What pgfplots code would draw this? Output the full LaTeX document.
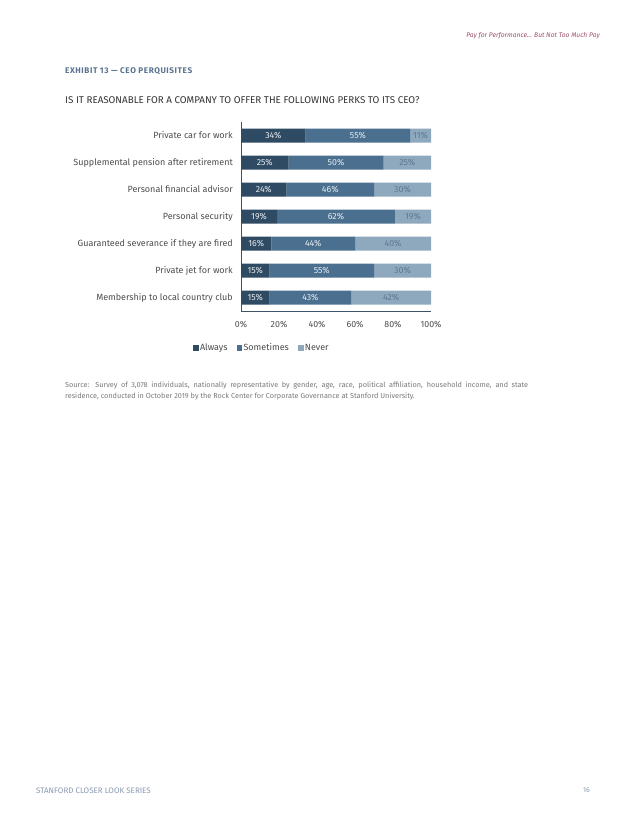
\documentclass[border=0pt]{standalone}
\usepackage{fontspec}
\setmainfont{Fira Sans}
\usepackage{pgfplots}
\pgfplotsset{compat=1.18}
\definecolor{always}{HTML}{2F4B63}
\definecolor{sometimes}{HTML}{4B6F8E}
\definecolor{never}{HTML}{8EA8BE}
\definecolor{axiscol}{HTML}{3E5468}
\definecolor{headpink}{HTML}{A0506E}
\definecolor{exhib}{HTML}{5A7390}
\definecolor{titlecol}{HTML}{333333}
\definecolor{catcol}{HTML}{4D4D4D}
\definecolor{srccol}{HTML}{7A7A7A}
\definecolor{footcol}{HTML}{8A9BB0}
\definecolor{nevertxt}{HTML}{5E7892}
\definecolor{lighttxt}{HTML}{E6ECF1}
\begin{document}
\begin{tikzpicture}
\path[use as bounding box, fill=white] (0,0) rectangle (638bp,-826bp);
\node[anchor=east, inner sep=0pt, text=headpink, font=\fontsize{6.7bp}{8bp}\selectfont\itshape] at (600bp,-36bp) {Pay for Performance... But Not Too Much Pay};
\node[anchor=west, inner sep=0pt, text=exhib, font=\fontsize{8.2bp}{9bp}\selectfont\bfseries\addfontfeature{LetterSpace=7}] at (65bp,-71bp) {EXHIBIT 13 — CEO PERQUISITES};
\node[anchor=west, inner sep=0pt, text=titlecol, font=\fontsize{9.8bp}{11bp}\selectfont] at (65bp,-100bp) {IS IT REASONABLE FOR A COMPANY TO OFFER THE FOLLOWING PERKS TO ITS CEO?};
\begin{axis}[
  at={(241bp,-311bp)}, anchor=south west,
  scale only axis, width=190bp, height=189bp,
  xbar stacked, bar width=14bp,
  xmin=0, xmax=100, ymin=-0.5, ymax=6.5,
  axis x line*=bottom, axis y line*=left,
  axis line style={draw=axiscol, line width=0.6bp},
  tick style={draw=none}, major tick length=0pt,
  /pgf/number format/assume math mode=true,
  xtick={0,20,40,60,80,100},
  xticklabel={\pgfmathprintnumber{\tick}\%},
  xticklabel style={anchor=center, yshift=-14bp, text=catcol, font=\fontsize{8.8bp}{10bp}\selectfont},
  ytick={0,1,2,3,4,5,6},
  yticklabels={Membership to local country club, Private jet for work, Guaranteed severance if they are fired, Personal security, Personal financial advisor, Supplemental pension after retirement, Private car for work},
  yticklabel style={anchor=east, inner sep=0pt, xshift=-8bp, text=catcol, font=\fontsize{9bp}{10bp}\selectfont},
  legend columns=3,
  legend style={at={(-0.268,-0.196)}, anchor=west, draw=none, fill=none, font=\fontsize{9bp}{10bp}\selectfont, text=catcol, /tikz/every even column/.append style={column sep=8bp}, nodes={inner sep=1.2bp}},
  legend image code/.code={\fill[#1, draw=none] (0bp,-2.8bp) rectangle (5.6bp,2.8bp);},
]
\addplot[fill=always, draw=none] coordinates {(15,0) (15,1) (16,2) (19,3) (24,4) (25,5) (34,6)};
\addplot[fill=sometimes, draw=none] coordinates {(43,0) (55,1) (44,2) (62,3) (46,4) (50,5) (55,6)};
\addplot[fill=never, draw=none] coordinates {(42,0) (30,1) (40,2) (19,3) (30,4) (25,5) (11,6)};
\legend{Always, Sometimes, Never}
\end{axis}
\begin{axis}[
  at={(241bp,-311bp)}, anchor=south west,
  scale only axis, width=190bp, height=189bp,
  xmin=0, xmax=100, ymin=-0.5, ymax=6.5,
  hide axis,
  /pgf/number format/assume math mode=true,
  nodes near coords={\pgfmathprintnumber{\pgfplotspointmeta}\%},
  point meta=explicit,
  every node near coord/.append style={anchor=center, inner sep=0pt, font=\fontsize{8.8bp}{10bp}\selectfont},
]
\addplot[draw=none, mark=none, nodes near coords style={text=lighttxt, anchor=center}] coordinates {(7.5,0) [15] (7.5,1) [15] (8,2) [16] (9.5,3) [19] (12,4) [24] (12.5,5) [25] (17,6) [34]};
\addplot[draw=none, mark=none, nodes near coords style={text=lighttxt, anchor=center}] coordinates {(36.5,0) [43] (42.5,1) [55] (38,2) [44] (50,3) [62] (47,4) [46] (50,5) [50] (61.5,6) [55]};
\addplot[draw=none, mark=none, nodes near coords style={text=nevertxt, anchor=center}] coordinates {(79,0) [42] (85,1) [30] (80,2) [40] (90.5,3) [19] (85,4) [30] (87.5,5) [25] (94.5,6) [11]};
\end{axis}
\node[anchor=north west, inner sep=0pt, text=srccol, text width=463bp, align=justify, font=\fontsize{7.3bp}{11bp}\selectfont] at (65bp,-382bp) {Source: Survey of 3,078 individuals, nationally representative by gender, age, race, political affiliation, household income, and state\linebreak residence, conducted in October 2019 by the Rock Center for Corporate Governance at Stanford University.};
\node[anchor=west, inner sep=0pt, text=footcol, font=\fontsize{8bp}{9bp}\selectfont] at (36bp,-791bp) {STANFORD CLOSER LOOK SERIES};
\node[anchor=east, inner sep=0pt, text=footcol, font=\fontsize{7bp}{8bp}\selectfont] at (590bp,-790bp) {16};
\end{tikzpicture}
\end{document}
